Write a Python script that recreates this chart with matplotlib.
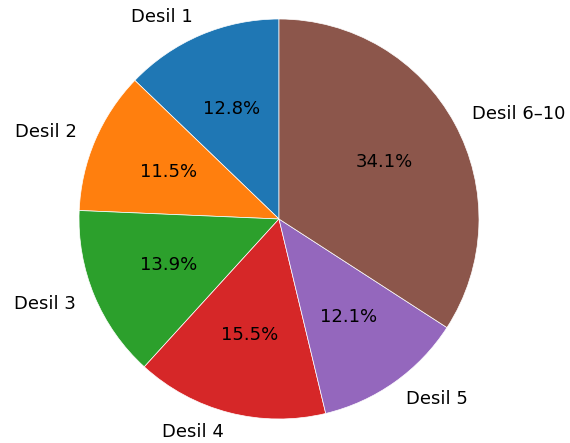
import matplotlib.pyplot as plt

labels = ["Desil 1", "Desil 2", "Desil 3", "Desil 4", "Desil 5", "Desil 6–10"]
shares = [12.8, 11.5, 13.9, 15.5, 12.1, 34.1]

fig = plt.figure(figsize=(5.7, 4.43), dpi=100)
# square axes: pie radius 200 px, centre at (279, 219) px from top-left
lim = 1.25
side = 2 * lim * 200
ax = fig.add_axes([(279 - side / 2) / 570, (443 - 219 - side / 2) / 443,
                   side / 570, side / 443])
ax.pie(shares, labels=labels, autopct="%1.1f%%", startangle=90,
       textprops={"fontsize": 13},
       wedgeprops={"edgecolor": "white", "linewidth": 0.5})
ax.set_aspect("auto")
ax.set_xlim(-lim, lim)
ax.set_ylim(-lim, lim)
ax.axis("off")
fig.savefig("out.png", dpi=100)
